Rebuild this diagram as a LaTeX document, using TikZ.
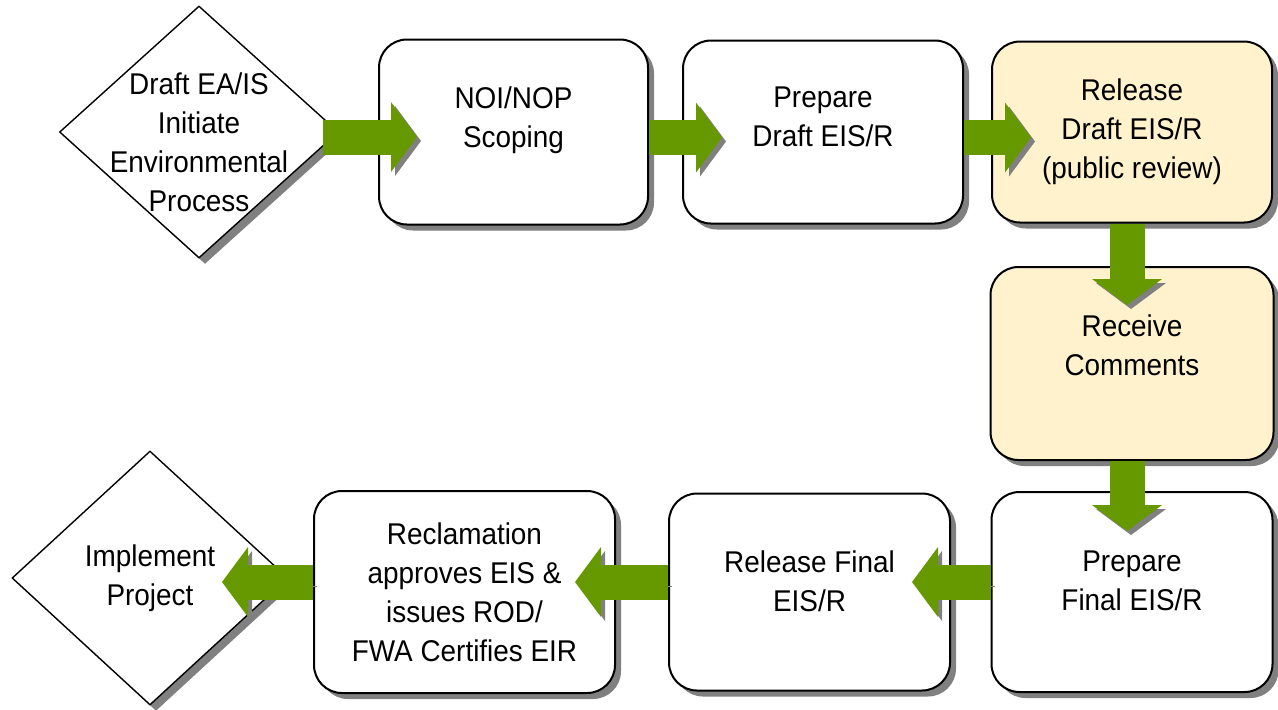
\documentclass[tikz,border=0pt]{standalone}
\usepackage{fontspec}
\setmainfont{Liberation Sans}[FakeStretch=0.93]
\usetikzlibrary{shapes.geometric,shadows,arrows.meta}
\definecolor{flowgreen}{RGB}{102,153,0}
\definecolor{reviewfill}{RGB}{255,242,204}
\definecolor{shadowgray}{RGB}{128,128,128}
\tikzset{>=latex}

\begin{document}
\begin{tikzpicture}[x=0.5pt, y=-0.5pt]
    % stepbox = rounded box, gate = diamond (start / end), flow = fat green arrow
    \tikzstyle{every node}=[font=\fontsize{15}{19.5}\selectfont, align=center]
    \tikzstyle{stepbox}=[rectangle, rounded corners=14pt, draw=black, line width=1pt, fill=white,
        drop shadow={shadow xshift=3pt, shadow yshift=-3pt, fill=shadowgray, opacity=1}]
    \tikzstyle{review}=[stepbox, fill=reviewfill]
    \tikzstyle{gate}=[diamond, draw=black, line width=0.7pt, fill=white, inner sep=0pt,
        drop shadow={shadow xshift=3pt, shadow yshift=-3pt, fill=shadowgray, opacity=1}]
    \tikzstyle{flow}=[draw=flowgreen, line width=17.5pt,
        -{Triangle[length=13pt, width=35pt, line width=0pt]},
        preaction={draw=shadowgray, transform canvas={xshift=2pt, yshift=-2pt}}]
    \useasboundingbox (0,0) rectangle (1278,709);

    \node[gate, minimum width=139.5pt, minimum height=126pt] (start) at (199,132) {};
    \node (starttext) at ([yshift=-5pt]start.center) {Draft EA/IS\\Initiate\\Environmental\\Process};
    \node[stepbox, minimum width=134.5pt, minimum height=92.5pt, text depth=15pt,
        right of=start, node distance=157.25pt] (noi) {NOI/NOP\\Scoping};
    \node[stepbox, minimum width=140pt, minimum height=91.5pt, text depth=15pt,
        right of=noi, node distance=154.75pt] (prep) {Prepare\\Draft EIS/R};
    \node[review, minimum width=140pt, minimum height=90.5pt,
        right of=prep, node distance=154.5pt] (rel) {Release\\Draft EIS/R\\(public review)};
    \node[review, minimum width=141.5pt, minimum height=96.5pt, text depth=18pt,
        below of=rel, node distance=115.75pt] (recv) {Receive\\Comments};
    \node[stepbox, minimum width=140.5pt, minimum height=100pt, text depth=11pt,
        below of=recv, node distance=114.25pt] (fin) {Prepare\\Final EIS/R};
    \node[stepbox, minimum width=140.5pt, minimum height=98.5pt, text depth=11pt,
        left of=fin, node distance=161.25pt] (relfin) {Release Final\\EIS/R};
    \node[stepbox, minimum width=150.5pt, minimum height=101pt,
        left of=relfin, node distance=172.5pt] (recl)
        {Reclamation\\approves EIS \&\\issues ROD/\\FWA Certifies EIR};
    \node[gate, minimum width=138pt, minimum height=127pt,
        left of=recl, node distance=157.25pt, yshift=7pt] (impl) {};
    \node (impltext) at (impl.center) {Implement\\Project};

    \draw[flow] ([xshift=-8pt, yshift=-2.5pt]start.east) -- ([xshift=19.5pt, yshift=-2.5pt]noi.west);
    \draw[flow] ([yshift=-2.75pt]noi.east) -- ([xshift=20pt, yshift=-2.75pt]prep.west);
    \draw[flow] ([yshift=-2.75pt]prep.east) -- ([xshift=20pt, yshift=-2.75pt]rel.west);
    \draw[flow] ([xshift=-2.5pt]rel.south) -- ([xshift=-2.5pt, yshift=-19.5pt]recv.north);
    \draw[flow] ([xshift=-2.5pt]recv.south) -- ([xshift=-2.5pt, yshift=-20pt]fin.north);
    \draw[flow] ([yshift=5pt]fin.west) -- ([xshift=-19.5pt, yshift=5pt]relfin.east);
    \draw[flow] ([yshift=5pt]relfin.west) -- ([xshift=-20.5pt, yshift=5pt]recl.east);
    \draw[flow] ([yshift=5pt]recl.west) -- ([xshift=36pt, yshift=-2pt]impl.center);
\end{tikzpicture}
\end{document}
